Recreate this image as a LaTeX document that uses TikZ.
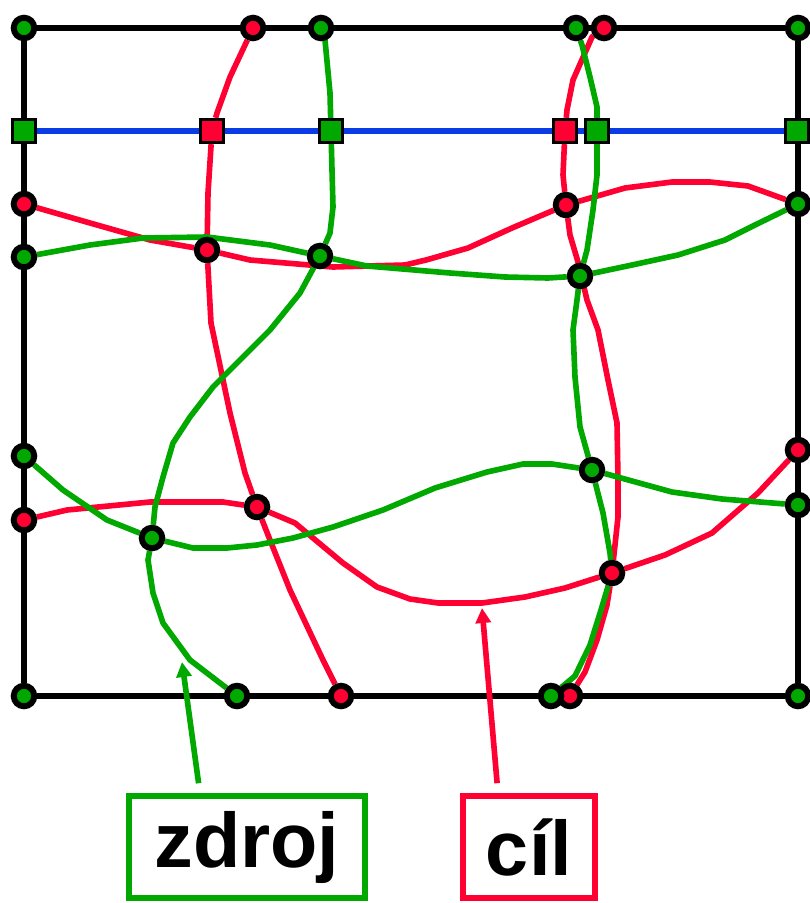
\documentclass[tikz,border=0pt]{standalone}
\usepackage{fontspec}
\setmainfont{Liberation Sans}
\usepackage{xcolor}
\usetikzlibrary{arrows.meta,backgrounds}
\definecolor{mapgreen}{HTML}{00A800}
\definecolor{mapred}{HTML}{FF0033}
\definecolor{mapblue}{HTML}{0A3CE6}

\begin{document}
\begin{tikzpicture}[x=0.01cm, y=-0.01cm,
    gdot/.style={circle, draw=black, fill=mapgreen, line width=1.7pt, minimum size=0.205cm, inner sep=0},
    rdot/.style={circle, draw=black, fill=mapred, line width=1.7pt, minimum size=0.205cm, inner sep=0},
    gsq/.style={rectangle, draw=black, fill=mapgreen, line width=0.8pt, minimum size=0.235cm, inner sep=0},
    rsq/.style={rectangle, draw=black, fill=mapred, line width=0.8pt, minimum size=0.235cm, inner sep=0},
    frame/.style={black, line width=1.6pt},
    gline/.style={mapgreen, line width=1.6pt, line join=round},
    rline/.style={mapred, line width=1.6pt, line join=round},
    bline/.style={mapblue, line width=1.6pt},
    gbox/.style={draw=mapgreen, line width=1.6pt, minimum width=2.36cm, minimum height=1.02cm, font=\bfseries\fontsize{22}{26}\selectfont},
    rbox/.style={draw=mapred, line width=1.6pt, minimum width=1.32cm, minimum height=1.02cm, font=\bfseries\fontsize{22}{26}\selectfont},
    garrow/.style={mapgreen, line width=1.6pt, -{Triangle[length=0.15cm, width=0.15cm]}},
    rarrow/.style={mapred, line width=1.6pt, -{Triangle[length=0.15cm, width=0.15cm]}}]
    \useasboundingbox (0,0) rectangle (810,903);

    \node[gdot] (tl) at (24,28) {};
    \node[rdot] (t1) at (253,28) {};
    \node[gdot] (t2) at (321,28) {};
    \node[gdot] (t3) at (576,28) {};
    \node[rdot] (t4) at (604,28) {};
    \node[gdot] (tr) at (798,28) {};

    \node[gsq] (s1) at (24,131) {};
    \node[rsq] (s2) at (212,131) {};
    \node[gsq] (s3) at (331,131) {};
    \node[rsq] (s4) at (565,131) {};
    \node[gsq] (s5) at (597,131) {};
    \node[gsq] (s6) at (797,131) {};

    \node[rdot] (l1) at (24,204) {};
    \node[gdot] (l2) at (24,257) {};
    \node[gdot] (l3) at (24,456) {};
    \node[rdot] (l4) at (24,520) {};
    \node[gdot] (bl) at (24,696) {};

    \node[gdot] (r1) at (798,204) {};
    \node[rdot] (r2) at (798,450) {};
    \node[gdot] (r3) at (798,505) {};
    \node[gdot] (br) at (798,696) {};

    \node[gdot] (b1) at (237,696) {};
    \node[rdot] (b2) at (341,696) {};
    \node[rdot] (b4) at (570,696) {};
    \node[gdot] (b3) at (551,696) {};

    \node[rdot] (a1) at (207,250) {};
    \node[gdot] (a2) at (320,256) {};
    \node[rdot] (a3) at (566,205) {};
    \node[gdot] (a4) at (580,276) {};
    \node[rdot] (a5) at (257,507) {};
    \node[gdot] (a6) at (152,538) {};
    \node[gdot] (a7) at (592,470) {};
    \node[rdot] (a8) at (612,573) {};

    \begin{pgfonlayer}{background}
    \draw[frame] (tl) -- (tr) -- (br) -- (bl) -- (tl);
    \draw[bline] (s1) -- (s6);

    \draw[rline] (t1) -- (230,77) -- (217,113) -- (s2) -- (208,193) -- (a1) -- (211,323) -- (230,413)
        -- (245,473) -- (a5) -- (270,540) -- (290,590) -- (323,660) -- (b2);
    \draw[rline] (l1) -- (90,223) -- (150,240) -- (a1) -- (250,260) -- (333,267) -- (405,265) -- (426,260)
        -- (468,248) -- (512,228) -- (a3) -- (625,188) -- (672,182) -- (710,182) -- (748,186) -- (r1);
    \draw[rline] (l4) -- (67,510) -- (150,502) -- (223,502) -- (a5) -- (295,523) -- (343,563) -- (377,587)
        -- (410,599) -- (438,603) -- (482,603) -- (525,597) -- (565,588) -- (a8) -- (665,555) -- (712,533)
        -- (758,493) -- (r2);
    \draw[rline] (t4) -- (592,37) -- (573,80) -- (567,110) -- (s4) -- (563,175) -- (a3) -- (570,235)
        -- (578,262) -- (587,300) -- (598,330) -- (608,380) -- (617,423) -- (618,480) -- (618,517) -- (a8)
        -- (607,605) -- (597,640) -- (585,672) -- (b4);

    \draw[gline] (l2) -- (90,245) -- (143,238) -- (207,237) -- (270,245) -- (a2) -- (367,266) -- (450,273)
        -- (505,277) -- (548,278) -- (a4) -- (632,265) -- (678,255) -- (725,240) -- (755,225) -- (r1);
    \draw[gline] (t2) -- (325,40) -- (330,93) -- (s3) -- (332,170) -- (333,207) -- (330,233) -- (a2)
        -- (300,293) -- (270,330) -- (247,353) -- (213,387) -- (190,417) -- (173,443) -- (163,477)
        -- (155,507) -- (a6) -- (148,560) -- (153,593) -- (163,623) -- (190,660) -- (b1);
    \draw[gline] (l3) -- (63,490) -- (107,520) -- (a6) -- (193,548) -- (227,548) -- (257,545) -- (293,538)
        -- (333,527) -- (383,510) -- (435,488) -- (487,472) -- (523,464) -- (552,464) -- (a7) -- (672,492)
        -- (722,499) -- (r3);
    \draw[gline] (t3) -- (582,45) -- (590,77) -- (597,107) -- (s5) -- (597,175) -- (593,210) -- (587,250)
        -- (a4) -- (577,300) -- (573,330) -- (575,377) -- (580,427) -- (a7) -- (603,513) -- (610,553)
        -- (a8) -- (601,610) -- (590,645) -- (575,676) -- (b3);
    \end{pgfonlayer}

    \node[gbox] (zdroj) at (247,847) {zdroj};
    \node[rbox] (cil) at (529,847) {cíl};
    \coordinate (ztip) at (182,662);
    \coordinate (ctip) at (482,608);
    \draw[garrow, shorten <=0.1cm] ([xshift=-0.47cm]zdroj.north) -- (ztip);
    \draw[rarrow, shorten <=0.1cm] ([xshift=-0.31cm]cil.north) -- (ctip);
\end{tikzpicture}
\end{document}
